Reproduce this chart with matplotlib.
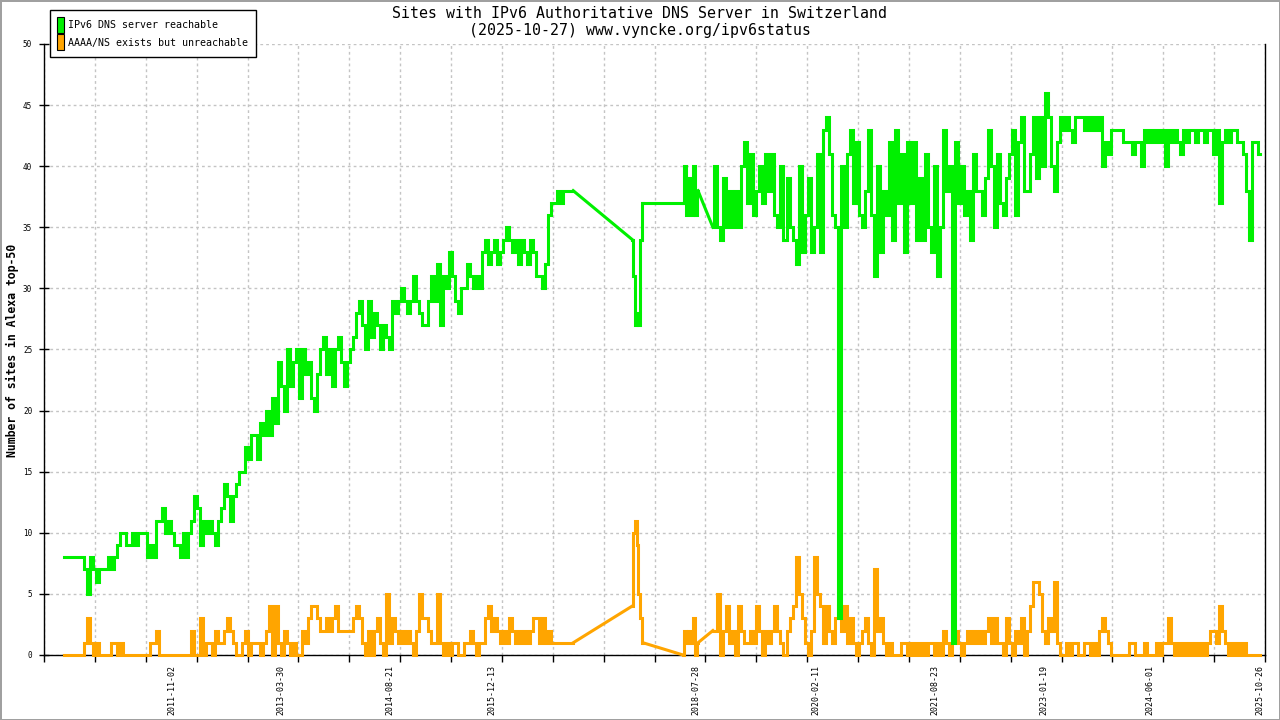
import matplotlib.pyplot as plt
import matplotlib.dates as mdates
from matplotlib.patches import Patch
import numpy as np
import pandas as pd

# periods with measurements (the site has holes in 2017 and mid 2018)
period_bounds = [("2010-06-16", "2016-12-30"),
                 ("2017-10-03", "2017-11-23"),
                 ("2018-05-30", "2018-08-08"),
                 ("2018-10-17", "2025-10-27")]

# IPv6 DNS server reachable, evenly spaced samples in each period
reachable_a = [
    8, 8, 8, 8, 8, 8, 8, 7, 5, 8,
    7, 6, 7, 7, 7, 8, 7, 8, 9, 10,
    10, 9, 9, 10, 9, 10, 10, 10, 8, 9,
    8, 11, 11, 12, 10, 11, 10, 9, 9, 8,
    10, 8, 10, 11, 13, 12, 9, 11, 10, 11,
    10, 9, 11, 12, 14, 13, 11, 13, 14, 15,
    15, 17, 16, 18, 18, 16, 19, 18, 20, 18,
    21, 19, 24, 22, 20, 25, 22, 24, 25, 21,
    25, 23, 24, 21, 20, 23, 25, 26, 23, 25,
    22, 25, 26, 24, 22, 24, 25, 26, 28, 29,
    27, 25, 29, 26, 28, 27, 25, 27, 26, 25,
    29, 28, 29, 30, 29, 28, 29, 31, 29, 28,
    27, 27, 29, 31, 29, 32, 27, 31, 30, 33,
    31, 29, 28, 30, 30, 32, 31, 30, 31, 30,
    33, 34, 32, 33, 34, 32, 33, 34, 35, 34,
    33, 34, 32, 34, 33, 32, 34, 33, 31, 31,
    30, 32, 36, 37, 37, 38, 37, 38, 38, 38,
    38]
reachable_b = [34, 31, 27, 28, 27, 34, 37]
reachable_c = [37, 40, 36, 39, 36, 40, 36, 38]
reachable_d = [
    35, 40, 35, 34, 39, 35, 38, 35, 38, 35,
    40, 42, 37, 41, 36, 38, 40, 37, 41, 38,
    41, 36, 35, 40, 34, 39, 35, 34, 32, 40,
    33, 36, 39, 33, 35, 41, 33, 43, 44, 41,
    36, 35, 3, 40, 35, 41, 43, 37, 42, 36,
    35, 38, 43, 36, 31, 40, 33, 38, 36, 42,
    34, 43, 37, 41, 33, 42, 37, 42, 34, 39,
    34, 41, 35, 33, 40, 31, 35, 43, 38, 40,
    1, 42, 37, 40, 36, 38, 34, 41, 38, 38,
    36, 39, 43, 40, 35, 41, 37, 36, 39, 41,
    43, 36, 42, 44, 38, 38, 41, 44, 39, 44,
    40, 46, 44, 40, 38, 42, 44, 43, 44, 43,
    42, 44, 44, 44, 43, 44, 43, 44, 43, 44,
    40, 42, 41, 43, 43, 43, 43, 42, 42, 42,
    41, 42, 42, 40, 43, 42, 43, 42, 43, 42,
    43, 40, 43, 42, 43, 42, 41, 43, 42, 43,
    43, 42, 43, 43, 42, 43, 43, 41, 43, 37,
    42, 43, 42, 43, 43, 42, 42, 41, 38, 34,
    42, 42, 41]

# AAAA/NS exists but unreachable
unreachable_a = [
    0, 0, 0, 0, 0, 0, 0, 1, 3, 1,
    0, 1, 0, 0, 0, 0, 1, 1, 0, 1,
    0, 0, 0, 0, 0, 0, 0, 0, 0, 1,
    1, 2, 0, 0, 0, 0, 0, 0, 0, 0,
    0, 0, 0, 2, 0, 0, 3, 0, 1, 1,
    0, 2, 1, 1, 2, 3, 2, 1, 0, 0,
    1, 2, 0, 1, 1, 1, 0, 1, 2, 4,
    0, 4, 1, 0, 2, 1, 0, 1, 0, 0,
    2, 1, 3, 4, 4, 3, 2, 2, 3, 2,
    3, 4, 2, 2, 2, 2, 2, 3, 4, 3,
    1, 0, 2, 0, 2, 3, 1, 0, 5, 1,
    3, 2, 1, 2, 1, 2, 1, 0, 2, 5,
    3, 3, 2, 1, 1, 5, 1, 0, 1, 0,
    1, 1, 0, 0, 1, 1, 2, 1, 0, 1,
    1, 3, 4, 2, 3, 2, 1, 2, 1, 3,
    2, 1, 2, 1, 2, 1, 2, 3, 3, 1,
    3, 1, 2, 1, 1, 1, 1, 1, 1, 1,
    1]
unreachable_b = [4, 10, 11, 9, 5, 3, 1]
unreachable_c = [0, 2, 1, 2, 1, 3, 0, 1]
unreachable_d = [
    2, 2, 5, 0, 2, 4, 1, 2, 0, 4,
    2, 1, 1, 2, 1, 4, 2, 0, 2, 1,
    2, 4, 2, 1, 0, 2, 3, 4, 8, 5,
    3, 1, 0, 2, 8, 5, 4, 1, 4, 2,
    1, 3, 4, 2, 4, 1, 3, 1, 0, 1,
    2, 3, 1, 0, 7, 2, 3, 1, 0, 1,
    0, 0, 0, 1, 1, 0, 1, 0, 1, 0,
    1, 0, 1, 1, 0, 1, 0, 2, 1, 0,
    2, 2, 1, 0, 1, 2, 1, 2, 1, 2,
    1, 2, 3, 1, 3, 1, 1, 0, 3, 1,
    0, 2, 1, 3, 0, 2, 4, 6, 6, 5,
    2, 1, 3, 2, 6, 1, 0, 0, 1, 0,
    1, 1, 0, 0, 1, 1, 0, 1, 0, 2,
    3, 2, 1, 0, 0, 0, 0, 0, 0, 1,
    1, 0, 0, 0, 1, 0, 0, 0, 1, 0,
    1, 1, 3, 1, 0, 1, 0, 1, 0, 1,
    0, 1, 0, 1, 0, 1, 2, 2, 1, 4,
    2, 1, 0, 1, 0, 1, 0, 1, 0, 0,
    0, 0, 0]

reachable = [reachable_a, reachable_b, reachable_c, reachable_d]
unreachable = [unreachable_a, unreachable_b, unreachable_c, unreachable_d]

tick_dates = ["2011-11-02", "2013-03-30", "2014-08-21", "2015-12-13",
              "2018-07-28", "2020-02-11", "2021-08-23", "2023-01-19",
              "2024-06-01", "2025-10-26"]
x_range = ("2010-03-13", "2025-11-21")

title = ("Sites with IPv6 Authoritative DNS Server in Switzerland\n"
         "(2025-10-27) www.vyncke.org/ipv6status")

GREEN = '#00f000'
ORANGE = '#ffa500'
MONO = 'DejaVu Sans Mono'
plt.rcParams['font.family'] = MONO


def draw(ax, series, color, z):
    prev = None
    for (start, end), vals in zip(period_bounds, series):
        x = pd.date_range(start, end, periods=len(vals)).to_numpy()
        if prev is not None:
            # gnuplot just joins the points across missing days
            ax.plot([prev[0], x[0]], [prev[1], vals[0]], color=color,
                    lw=2.2, zorder=z, clip_on=False)
        ax.plot(x, vals, drawstyle='steps-mid', color=color, lw=2.2,
                zorder=z, clip_on=False, solid_joinstyle='miter')
        prev = (x[-1], vals[-1])


fig = plt.figure(figsize=(12.8, 7.2), dpi=100)
fig.patch.set_edgecolor('#a0a0a0')
fig.patch.set_linewidth(2)
ax = fig.add_axes([0.0344, 0.0903, 0.9539, 0.8486])

draw(ax, unreachable, ORANGE, 2.6)
draw(ax, reachable, GREEN, 2.7)

ax.set_xlim(np.datetime64(x_range[0]), np.datetime64(x_range[1]))
lo, hi = ax.get_xlim()
ax.set_xticks(np.linspace(lo, hi, 25))
ax.set_xticklabels([])
ax.set_xticks(mdates.date2num(pd.to_datetime(tick_dates)), labels=tick_dates, minor=True)
ax.tick_params(axis='x', which='major', direction='out', length=5, width=1)
ax.tick_params(axis='x', which='minor', length=0, pad=7, labelrotation=90, labelsize=6)

ax.set_ylim(0, 50)
ax.set_yticks(range(0, 51, 5))
ax.tick_params(axis='y', direction='inout', length=7, width=1, pad=5, labelsize=5.5)
ax.yaxis.set_ticks_position('left')

ax.grid(True, which='major', color='#c4c4c4', linestyle=(0, (2, 2.2)), lw=1)
ax.set_axisbelow(True)
ax.spines['top'].set_visible(False)
for side in ('left', 'bottom', 'right'):
    ax.spines[side].set_linewidth(1.0)

lines = title.split("\n")
fig.text(0.5, 1 - 13 / 720, lines[0], ha='center', va='center', fontsize=10.7)
fig.text(0.5, 1 - 31 / 720, lines[1], ha='center', va='center', fontsize=10.7)
fig.text(12.5 / 1280, 1 - 350 / 720, "Number of sites in Alexa top-50",
         rotation=90, ha='center', va='center', fontsize=8.3, fontweight='bold')

handles = [Patch(facecolor=GREEN, edgecolor='black', lw=0.8, label='IPv6 DNS server reachable'),
           Patch(facecolor=ORANGE, edgecolor='black', lw=0.8, label='AAAA/NS exists but unreachable')]
leg = fig.legend(handles=handles, loc='upper left', bbox_to_anchor=(50 / 1280, 1 - 10 / 720),
                 frameon=True, fancybox=False, edgecolor='black', framealpha=1,
                 prop={'family': MONO, 'size': 7.2}, handlelength=0.7, handleheight=2.08,
                 handletextpad=0.45, borderpad=0.7, labelspacing=0.15, borderaxespad=0)
leg.get_frame().set_linewidth(1.0)

fig.savefig('out.png', dpi=100)
